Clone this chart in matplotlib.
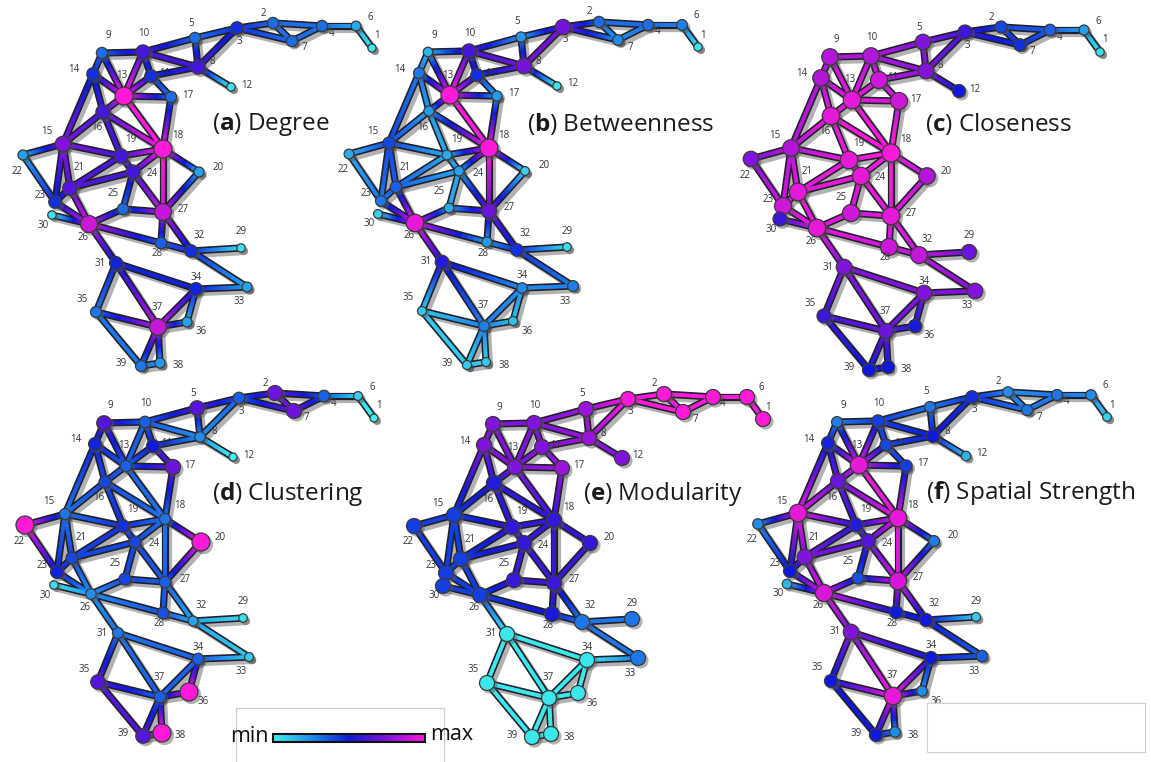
import numpy as np
import matplotlib
matplotlib.use("Agg")
import matplotlib.pyplot as plt
from matplotlib.collections import LineCollection
from matplotlib.colors import LinearSegmentedColormap
from matplotlib.patches import Rectangle
import matplotlib.patheffects as pe

plt.rcParams['font.family'] = ['Open Sans', 'DejaVu Sans']
plt.rcParams['mathtext.fontset'] = 'custom'
plt.rcParams['mathtext.rm'] = 'Open Sans'
plt.rcParams['mathtext.bf'] = 'Open Sans:bold'

# ---------------- data ----------------
node_ids = list(range(1, 40))

edges = [(1,6),(6,4),(4,2),(4,7),(2,7),(2,3),(3,7),(3,5),(3,8),(5,10),(5,8),(8,10),
         (8,11),(8,12),(9,10),(9,14),(9,13),(10,13),(10,11),(11,13),(11,17),(13,17),
         (13,14),(13,16),(13,18),(17,18),(14,16),(14,15),(15,16),(16,19),(16,18),
         (15,22),(15,21),(15,19),(15,23),(18,19),(18,24),(18,20),(18,27),(19,24),
         (19,21),(21,24),(22,23),(21,23),(21,26),(23,26),(24,25),(24,27),(25,26),
         (25,27),(20,27),(26,30),(26,28),(26,31),(27,28),(27,32),(28,32),(29,32),
         (32,33),(31,34),(31,35),(31,37),(33,34),(34,37),(34,36),(36,37),(35,37),
         (35,39),(37,39),(37,38),(38,39)]

panel_letters = ['a', 'b', 'c', 'd', 'e', 'f']
panel_names = ['Degree', 'Betweenness', 'Closeness', 'Clustering', 'Modularity', 'Spatial Strength']

# normalized metric values for nodes 1..39 (0 = min, 1 = max)
degree = [0.02,0.32,0.45,0.32,0.32,0.18,0.32,0.62,0.32,0.62,0.45,0.04,1.00,0.45,0.75,
          0.62,0.32,1.00,0.62,0.20,0.65,0.20,0.45,0.62,0.32,0.90,0.88,0.35,0.04,0.05,
          0.48,0.45,0.20,0.48,0.30,0.20,0.88,0.22,0.30]
betweenness = [0.04,0.32,0.72,0.32,0.22,0.28,0.25,0.72,0.15,0.62,0.45,0.04,1.00,0.30,0.40,
               0.22,0.22,1.00,0.18,0.08,0.35,0.18,0.30,0.20,0.18,0.95,0.70,0.22,0.05,0.08,
               0.55,0.45,0.28,0.25,0.10,0.12,0.28,0.10,0.10]
closeness = [0.05,0.40,0.60,0.35,0.75,0.20,0.45,0.75,0.85,0.85,0.90,0.50,0.95,0.85,0.85,
             0.95,0.90,1.00,0.95,0.85,0.95,0.75,0.90,0.95,0.90,0.95,0.95,0.90,0.70,0.60,
             0.75,0.88,0.75,0.75,0.60,0.52,0.70,0.50,0.50]
clustering = [0.00,0.70,0.35,0.35,0.65,0.08,0.70,0.25,0.65,0.35,0.50,0.00,0.35,0.48,0.30,
              0.40,0.70,0.30,0.45,1.00,0.40,1.00,0.48,0.40,0.40,0.25,0.35,0.38,0.05,0.05,
              0.30,0.20,0.10,0.35,0.65,1.00,0.35,1.00,0.65]
modularity = [1.00,1.00,1.00,1.00,0.80,1.00,1.00,0.80,0.75,0.75,0.75,0.75,0.75,0.75,0.42,
              0.55,0.80,0.58,0.58,0.58,0.42,0.42,0.42,0.58,0.60,0.42,0.60,0.52,0.30,0.42,
              0.03,0.30,0.30,0.03,0.03,0.03,0.03,0.03,0.03]
spatial = [0.08,0.25,0.45,0.30,0.30,0.25,0.30,0.50,0.28,0.42,0.40,0.15,0.95,0.48,0.95,
           0.70,0.42,0.95,0.55,0.28,0.75,0.25,0.50,0.65,0.38,0.92,0.92,0.50,0.10,0.15,
           0.75,0.50,0.35,0.50,0.50,0.25,0.95,0.25,0.50]
metrics = [degree, betweenness, closeness, clustering, modularity, spatial]

# ---------------- layout ----------------
pos = {1:(372,48),2:(273,23),3:(237,28),4:(322,26),5:(195,38),6:(356,26),7:(292,41),
       8:(198,67),9:(102,53),10:(143,52),11:(151,76),12:(231,87),13:(124,96),14:(93,74),
       15:(63,144),16:(103,112),17:(171,97),18:(163,149),19:(121,156),20:(199,172),
       21:(70,188),22:(23,155),23:(55,202),24:(133,172),25:(123,209),26:(89,224),
       27:(163,212),28:(161,243),29:(241,248),30:(52,215),31:(116,263),32:(191,251),
       33:(247,287),34:(196,289),35:(96,312),36:(187,322),37:(158,327),38:(160,363),
       39:(141,366)}
lab_off = {1:(5,-12),2:(-10,-10),3:(2,13),4:(10,7),5:(-4,-15),6:(14,-9),7:(12,7),8:(14,-5),
           9:(6,-17),10:(1,-18),11:(14,-2),12:(16,-2),13:(-2,-20),14:(-19,-4),15:(-16,-12),
           16:(-6,16),17:(17,-2),18:(15,-13),19:(10,-16),20:(19,-5),21:(9,-20),22:(-6,16),
           23:(-15,-7),24:(19,2),25:(-10,-16),26:(-6,13),27:(20,-3),28:(-4,11),29:(0,-16),
           30:(-9,10),31:(-16,0),32:(8,-16),33:(-8,15),34:(0,-12),35:(-14,-13),36:(14,10),
           37:(-1,-20),38:(18,3),39:(-20,-2)}
offsets = [(0,0),(326,-1),(728,4),(2,370),(391,371),(735,369)]
title_xy = [(212,124),(527,124),(925,124),(212,494),(583,494),(926,493)]

cmap = LinearSegmentedColormap.from_list('cm', [
    (0.00, (0.25, 0.95, 0.92)),
    (0.25, (0.13, 0.55, 0.92)),
    (0.50, (0.06, 0.10, 0.86)),
    (0.75, (0.50, 0.08, 0.85)),
    (1.00, (1.00, 0.10, 0.85))])

W, H = 1151, 762
fig = plt.figure(figsize=(W/100, H/100), dpi=100)
ax = fig.add_axes([0, 0, 1, 1])
ax.set_xlim(0, W)
ax.set_ylim(H, 0)
ax.axis('off')

nseg = 12
for k, vals in enumerate(metrics):
    dx, dy = offsets[k]
    P = {n: (pos[n][0] + dx, pos[n][1] + dy) for n in node_ids}
    v = {n: vals[n-1] for n in node_ids}
    # outlines with shadow
    outline = [[P[a], P[b]] for a, b in edges]
    lc0 = LineCollection(outline, colors='#20202a', linewidths=5.2, capstyle='round', zorder=1)
    lc0.set_path_effects([pe.SimpleLineShadow(offset=(2.5, -2.5), shadow_color='#555555', alpha=0.45),
                          pe.Normal()])
    ax.add_collection(lc0)
    segs, cols = [], []
    for a, b in edges:
        xa, ya = P[a]; xb, yb = P[b]
        for i in range(nseg):
            t0, t1 = i/nseg, (i+1)/nseg
            segs.append([(xa+(xb-xa)*t0, ya+(yb-ya)*t0), (xa+(xb-xa)*t1, ya+(yb-ya)*t1)])
            cols.append(cmap(v[a] + (v[b]-v[a])*(t0+t1)/2))
    lc = LineCollection(segs, colors=cols, linewidths=2.8, capstyle='round', zorder=2)
    ax.add_collection(lc)
    xs = [P[n][0] for n in node_ids]
    ys = [P[n][1] for n in node_ids]
    if panel_names[k] == 'Modularity':
        dpx = np.full(39, 15.0)
    else:
        dpx = np.array([8 + 10*v[n] for n in node_ids])
    s = (dpx*0.72)**2
    ax.scatter([x+2.5 for x in xs], [y+2.5 for y in ys], s=s*1.15, c='#555555', alpha=0.45,
               linewidths=0, zorder=3)
    ax.scatter(xs, ys, s=s, c=[cmap(v[n]) for n in node_ids], edgecolors='#3a3a3a',
               linewidths=0.9, zorder=4)
    for n in node_ids:
        ox, oy = lab_off[n]
        ax.text(P[n][0]+ox, P[n][1]+oy, str(n), fontsize=7, color='#333333',
                ha='center', va='center', zorder=5)
    tx, ty = title_xy[k]
    ax.text(tx, ty, r"($\mathbf{%s}$) %s" % (panel_letters[k], panel_names[k]),
            fontsize=17.5, color='#1a1a1a', ha='left', va='center', zorder=6)

# legend colorbar
ax.add_patch(Rectangle((236, 708), 208, 60, fill=False, edgecolor='#cccccc', lw=0.8, zorder=6))
ax.add_patch(Rectangle((927, 703), 218, 49, fill=False, edgecolor='#d0d0d0', lw=0.8, zorder=6))
grad = np.linspace(0, 1, 256).reshape(1, -1)
ax.imshow(grad, cmap=cmap, extent=(273, 425, 742, 734), aspect='auto', zorder=7)
ax.add_patch(Rectangle((273, 734), 152, 8, fill=False, edgecolor='#111111', lw=1.5, zorder=8))
ax.text(249, 736, 'min', fontsize=15.5, ha='center', va='center', color='#111111', zorder=8)
ax.text(452, 734, 'max', fontsize=15.5, ha='center', va='center', color='#111111', zorder=8)
ax.set_xlim(0, W)
ax.set_ylim(H, 0)

fig.savefig('out.png', dpi=100)
